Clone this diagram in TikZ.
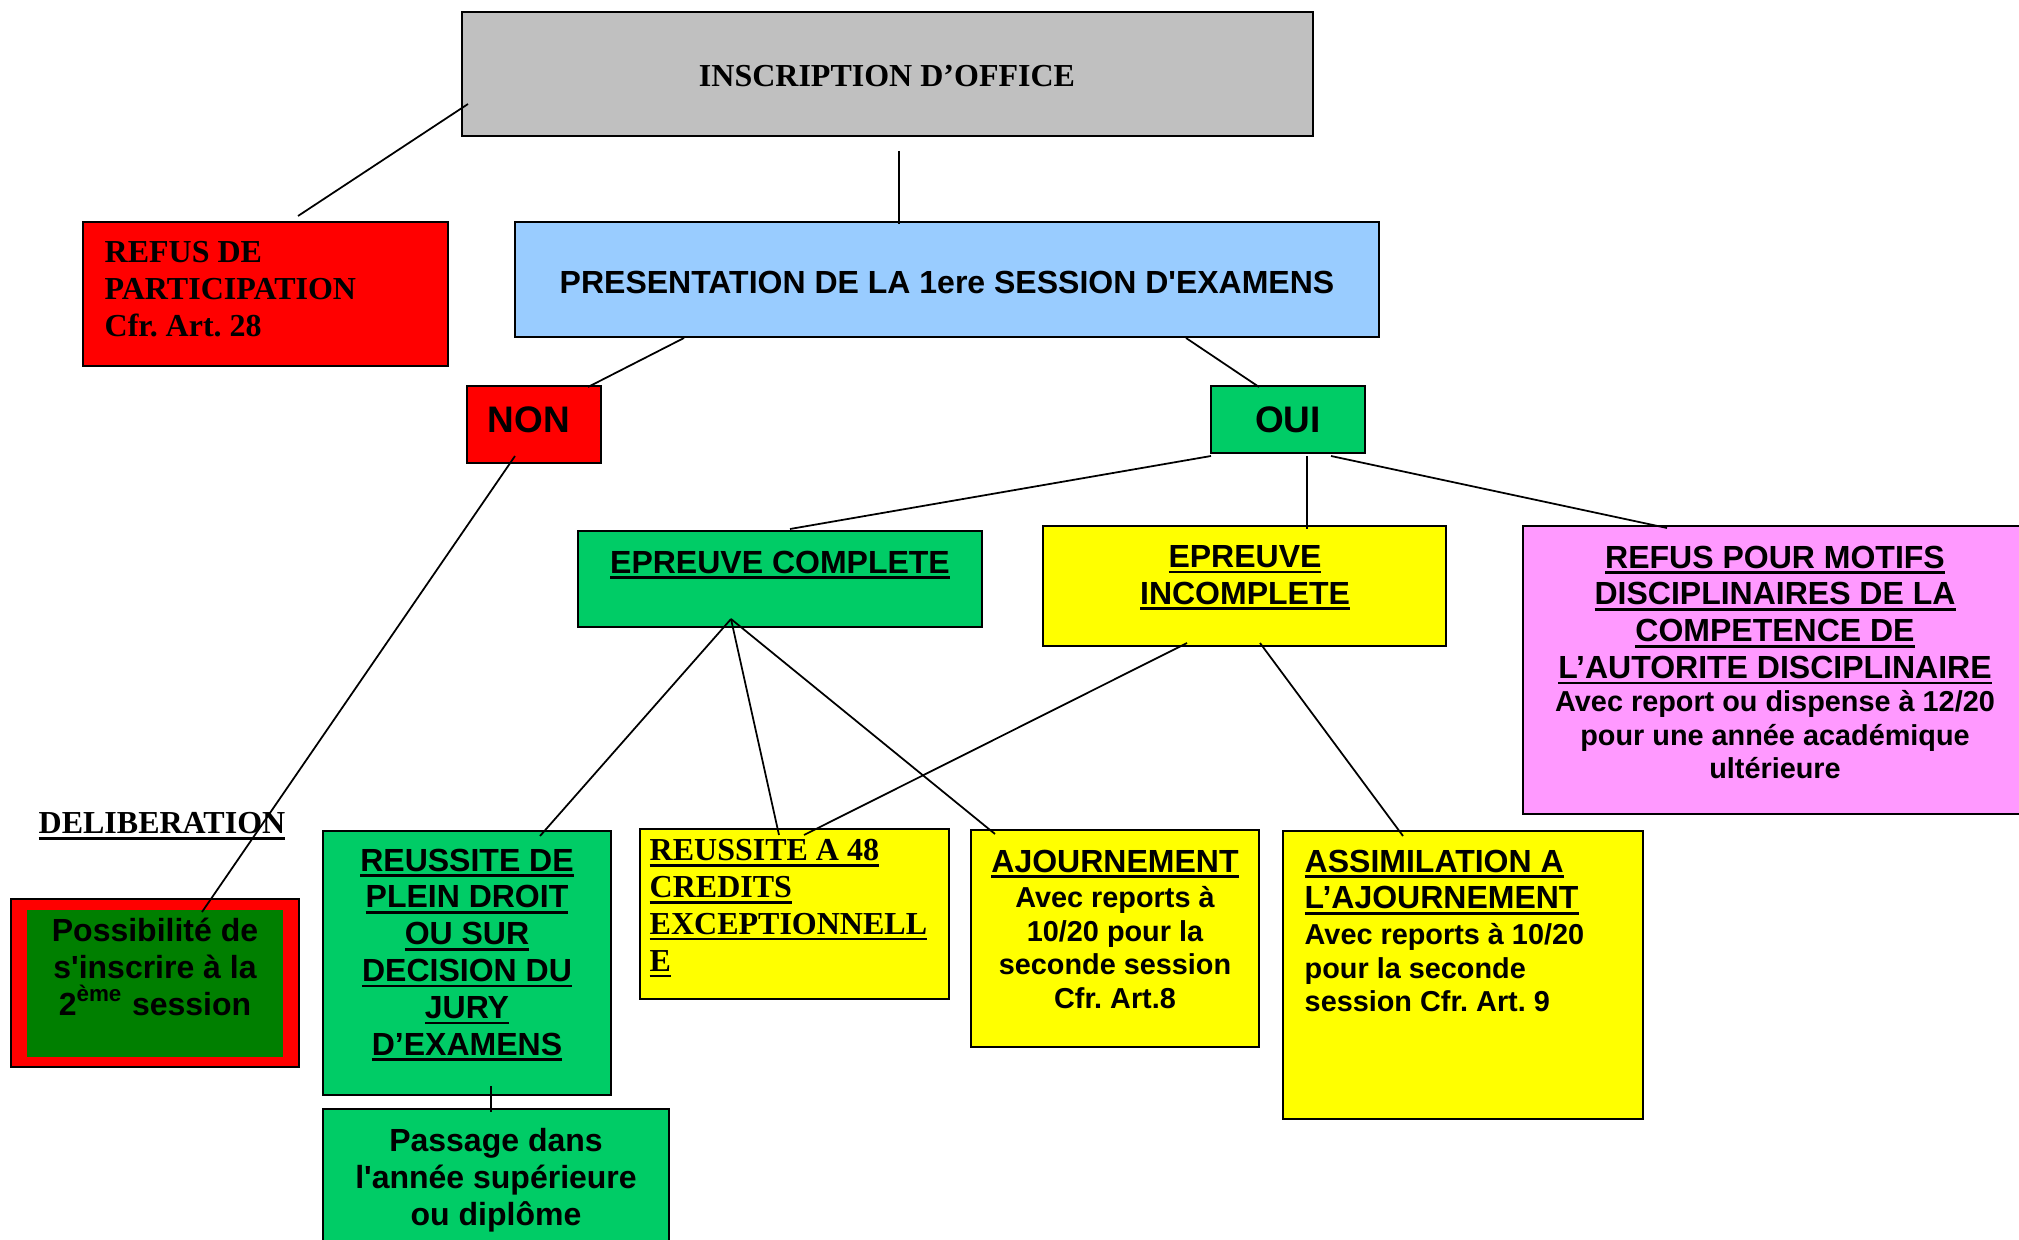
\documentclass[tikz,border=0pt]{standalone}
\usepackage{fontspec}
\setmainfont{Liberation Serif}
\newfontfamily\arialf{Liberation Sans}
\usetikzlibrary{fit,calc}
\definecolor{grayb}{HTML}{C0C0C0}
\definecolor{blueb}{HTML}{99CCFF}
\definecolor{greenb}{HTML}{00CC66}
\definecolor{dgreen}{HTML}{007F00}
\definecolor{yellowb}{HTML}{FFFF00}
\definecolor{pinkb}{HTML}{FF99FF}
\definecolor{redb}{HTML}{FF0000}
\frenchspacing
\newsavebox\ulbox
\newcommand\ulx[1]{\sbox\ulbox{#1}\rlap{\rule[-1.6pt]{\wd\ulbox}{0.8pt}}\usebox\ulbox}
\begin{document}
\begin{tikzpicture}[x=0.01cm,y=-0.01cm,
  bx/.style={draw=black,line width=0.7pt,inner sep=0pt,outer sep=0pt},
  conn/.style={draw=black,line width=0.5pt},
  ser/.style={font=\bfseries\fontsize{9.1}{10.5}\selectfont,inner sep=0pt},
  sans/.style={font=\arialf\bfseries\fontsize{9.1}{10.5}\selectfont,inner sep=0pt},
  sanssm/.style={font=\arialf\bfseries\fontsize{8.2}{9.5}\selectfont,inner sep=0pt},
  sansbig/.style={font=\arialf\bfseries\fontsize{10.5}{12}\selectfont,inner sep=0pt},
]
\useasboundingbox (0,0) rectangle (2019,1240);
\fill[white] (0,0) rectangle (2019,1240);
\clip (0,0) rectangle (2019,1240);

% boxes
\node[bx,fill=grayb,fit={(462,12)(1313,136)}] (inscr) {};
\node[bx,fill=redb,fit={(83,222)(448,366)}] (refus) {};
\node[bx,fill=blueb,fit={(515,222)(1379,337)}] (pres) {};
\node[bx,fill=redb,fit={(467,386)(601,463)}] (non) {};
\node[bx,fill=greenb,fit={(1211,386)(1365,453)}] (oui) {};
\node[bx,fill=greenb,fit={(578,531)(982,627)}] (ec) {};
\node[bx,fill=yellowb,fit={(1043,526)(1446,646)}] (ei) {};
\node[bx,fill=pinkb,fit={(1523,526)(2040,814)}] (pink) {};
\node[bx,fill=greenb,fit={(323,831)(611,1095)}] (reus) {};
\node[bx,fill=yellowb,fit={(640,829)(949,999)}] (r48) {};
\node[bx,fill=yellowb,fit={(971,830)(1259,1047)}] (ajourn) {};
\node[bx,fill=yellowb,fit={(1283,831)(1643,1119)}] (assim) {};
\node[bx,fill=redb,fit={(11,899)(299,1067)}] (poss) {};
\node[inner sep=0pt,outer sep=0pt,fill=dgreen,fit={(27,910)(283,1057)}] (possin) {};
\node[bx,fill=greenb,fit={(323,1109)(669,1260)}] (pass) {};

% texts
\node[ser,anchor=north] (inscrT) at (887,65) {INSCRIPTION D’OFFICE};
\node[ser,anchor=north west,align=left] (refusT) at (104,241) {REFUS DE\\PARTICIPATION\\Cfr. Art. 28};
\node[sans,anchor=north] (presT) at (947,270) {PRESENTATION DE LA 1ere SESSION D'EXAMENS};
\node[sansbig,anchor=north] (nonT) at (529,406) {NON};
\node[sansbig,anchor=north] (ouiT) at (1288,406) {OUI};
\node[sans,anchor=north] (ecT) at (780,550) {\ulx{EPREUVE COMPLETE}};
\node[sans,anchor=north,align=center] (eiT) at (1245,545) {\ulx{EPREUVE}\\\ulx{INCOMPLETE}};
\node[sans,anchor=north,align=center] (pinkT) at (1775,545) {\ulx{REFUS POUR MOTIFS}\\\ulx{DISCIPLINAIRES DE LA}\\\ulx{COMPETENCE DE}\\\ulx{L’AUTORITE DISCIPLINAIRE}};
\node[sanssm,anchor=north,align=center] (pinkD) at (1775,690) {Avec report ou dispense à 12/20\\pour une année académique\\ultérieure};
\node[sans,anchor=north] (ajT) at (1115,849) {\ulx{AJOURNEMENT}};
\node[sanssm,anchor=north,align=center] (ajD) at (1115,886) {Avec reports à\\10/20 pour la\\seconde session\\Cfr. Art.8};
\node[sans,anchor=north west,align=left] (asT) at (1304,849) {\ulx{ASSIMILATION A}\\\ulx{L’AJOURNEMENT}};
\node[sanssm,anchor=north west,align=left] (asD) at (1304,923) {Avec reports à 10/20\\pour la seconde\\session Cfr. Art. 9};
\node[ser,anchor=north west,align=left] (r48T) at (649,839) {\ulx{REUSSITE A 48}\\\ulx{CREDITS}\\\ulx{EXCEPTIONNELL}\\\ulx{E}};
\node[sans,anchor=north,align=center] (reusT) at (467,848) {\ulx{REUSSITE DE}\\\ulx{PLEIN DROIT}\\\ulx{OU SUR}\\\ulx{DECISION DU}\\\ulx{JURY}\\\ulx{D’EXAMENS}};
\node[sans,anchor=north,align=center] (possT) at (155,917) {Possibilité de\\s'inscrire à la\\2\textsuperscript{ème} session};
\node[sans,anchor=north,align=center] (passT) at (496,1128) {Passage dans\\l'année supérieure\\ou diplôme};
\node[ser,anchor=north west] (delibT) at (38,812) {\ulx{DELIBERATION}};

% connectors
\draw[conn] ($(inscr.north west)+(6,92)$) -- ($(refus.north west)+(215,-6)$);
\draw[conn] ($(inscr.north west)+(437,139)$) -- ($(pres.north west)+(384,2)$);
\draw[conn] ($(pres.north west)+(169,116)$) -- ($(non.north west)+(121,1)$);
\draw[conn] ($(pres.north west)+(671,116)$) -- ($(oui.north west)+(48,1)$);
\draw[conn] ($(non.north west)+(48,70)$) -- ($(poss.north west)+(191,13)$);
\draw[conn] ($(oui.north west)+(0,70)$) -- ($(ec.north west)+(212,-2)$);
\draw[conn] ($(oui.north west)+(96,70)$) -- ($(ei.north west)+(264,3)$);
\draw[conn] ($(oui.north west)+(120,70)$) -- ($(pink.north west)+(144,2)$);
\draw[conn] ($(ec.north west)+(153,88)$) -- ($(reus.north west)+(217,5)$);
\draw[conn] ($(ec.north west)+(153,88)$) -- ($(r48.north west)+(139,6)$);
\draw[conn] ($(ec.north west)+(153,88)$) -- ($(ajourn.north west)+(24,4)$);
\draw[conn] ($(ei.north west)+(144,117)$) -- ($(r48.north west)+(164,6)$);
\draw[conn] ($(ei.north west)+(217,117)$) -- ($(assim.north west)+(120,5)$);
\draw[conn] ($(reus.north west)+(168,255)$) -- ($(pass.north west)+(168,3)$);
\end{tikzpicture}
\end{document}
